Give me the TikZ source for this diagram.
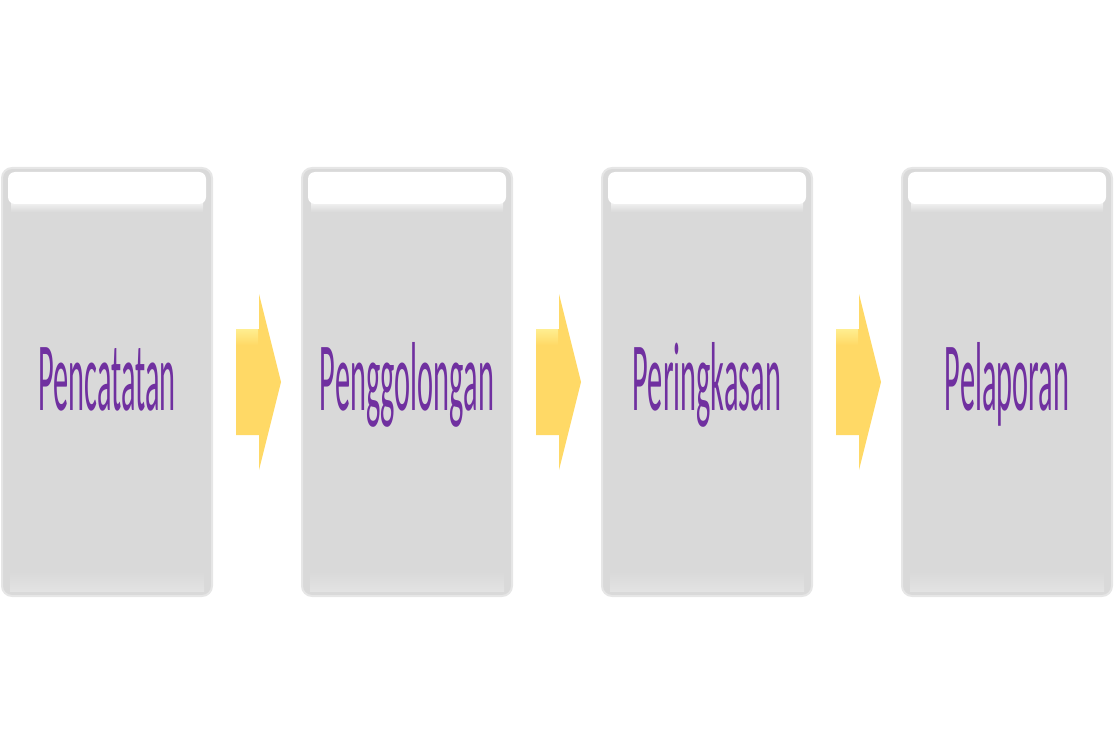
\documentclass[tikz,border=0pt]{standalone}
\usepackage{fontspec}
\setmainfont{Carlito}
\usepackage{xcolor}
\usepackage{tikz}
\usetikzlibrary{positioning,calc}

\definecolor{boxgray}{HTML}{D9D9D9}
\definecolor{edgegray}{HTML}{E6E6E6}
\definecolor{shinegray}{HTML}{E3E3E3}
\definecolor{stepyellow}{HTML}{FFD966}
\definecolor{stepyellowlight}{HTML}{FFEE90}
\definecolor{steppurple}{HTML}{7030A0}
\newcommand{\narrowtext}[1]{\scalebox{0.31}[1]{#1}}

\begin{document}
\begin{tikzpicture}[
  x=1pt, y=1pt,
  node distance=90pt,
  stagebox/.style={draw=edgegray, line width=2pt, fill=boxgray, rounded corners=10pt,
    minimum width=210pt, minimum height=428pt, inner sep=0pt, outer sep=0pt,
    text=steppurple, font=\fontsize{98}{100}\selectfont, text height=70pt, text depth=14pt},
  shine/.style={fill=white, rounded corners=7pt},
  fade/.style={top color=white, bottom color=boxgray},
  foot/.style={top color=boxgray, bottom color=shinegray},
  arr/.style={fill=stepyellow},
  arrtop/.style={top color=stepyellowlight, bottom color=stepyellow}
]
  \useasboundingbox (0,0) rectangle (1115,732);

  \node[stagebox] (catat) at (107,350) {\narrowtext{Pencatatan}};
  \node[stagebox, right=of catat] (golong) {\narrowtext{Penggolongan}};
  \node[stagebox, right=of golong] (ringkas) {\narrowtext{Peringkasan}};
  \node[stagebox, right=of ringkas] (lapor) {\narrowtext{Pelaporan}};

  % glossy top band and light foot of each box
  \fill[fade] ($(catat.north west)+(9,-30)$) rectangle ($(catat.north east)+(-9,-44)$);
  \fill[fade] ($(golong.north west)+(9,-30)$) rectangle ($(golong.north east)+(-9,-44)$);
  \fill[fade] ($(ringkas.north west)+(9,-30)$) rectangle ($(ringkas.north east)+(-9,-44)$);
  \fill[fade] ($(lapor.north west)+(9,-30)$) rectangle ($(lapor.north east)+(-9,-44)$);
  \fill[shine] ($(catat.north west)+(6,-4)$) rectangle ($(catat.north east)+(-6,-36)$);
  \fill[shine] ($(golong.north west)+(6,-4)$) rectangle ($(golong.north east)+(-6,-36)$);
  \fill[shine] ($(ringkas.north west)+(6,-4)$) rectangle ($(ringkas.north east)+(-6,-36)$);
  \fill[shine] ($(lapor.north west)+(6,-4)$) rectangle ($(lapor.north east)+(-6,-36)$);
  \fill[foot] ($(catat.south west)+(8,5)$) rectangle ($(catat.south east)+(-8,24)$);
  \fill[foot] ($(golong.south west)+(8,5)$) rectangle ($(golong.south east)+(-8,24)$);
  \fill[foot] ($(ringkas.south west)+(8,5)$) rectangle ($(ringkas.south east)+(-8,24)$);
  \fill[foot] ($(lapor.south west)+(8,5)$) rectangle ($(lapor.south east)+(-8,24)$);

  % block arrows between the boxes
  \fill[arr] ($(catat.east)+(24,53)$) -- ++(23,0) -- ++(0,35) -- ++(22,-88) -- ++(-22,-88) -- ++(0,35) -- ++(-23,0) -- cycle;
  \fill[arr] ($(golong.east)+(24,53)$) -- ++(23,0) -- ++(0,35) -- ++(22,-88) -- ++(-22,-88) -- ++(0,35) -- ++(-23,0) -- cycle;
  \fill[arr] ($(ringkas.east)+(24,53)$) -- ++(23,0) -- ++(0,35) -- ++(22,-88) -- ++(-22,-88) -- ++(0,35) -- ++(-23,0) -- cycle;
  \fill[arrtop] ($(catat.east)+(24,53)$) rectangle ($(catat.east)+(46,37)$);
  \fill[arrtop] ($(golong.east)+(24,53)$) rectangle ($(golong.east)+(46,37)$);
  \fill[arrtop] ($(ringkas.east)+(24,53)$) rectangle ($(ringkas.east)+(46,37)$);
\end{tikzpicture}
\end{document}
